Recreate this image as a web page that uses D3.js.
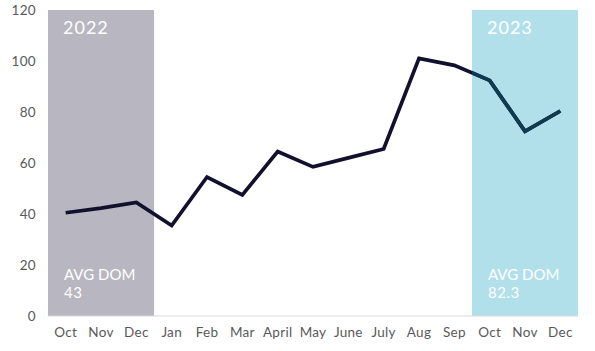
<!DOCTYPE html>
<html>
<head>
<meta charset="utf-8">
<script src="https://cdn.jsdelivr.net/npm/d3@7"></script>
<style>
  body { margin: 0; background: #fff; }
  svg text { font-family: "Lato", "Open Sans", sans-serif; }
</style>
</head>
<body>
<svg id="chart"></svg>
<script>
// Data
const months = ["Oct", "Nov", "Dec", "Jan", "Feb", "Mar", "April", "May", "June", "July", "Aug", "Sep", "Oct ", "Nov ", "Dec "];
const domValues = [40.5, 42.3, 44.5, 35.5, 54.5, 47.5, 64.5, 58.5, 62, 65.5, 101, 98.3, 92.4, 72.4, 80.4];
const yTicks = [0, 20, 40, 60, 80, 100, 120];
const periods = [
    { label: "2022", avg: "43", from: "Oct", to: "Dec", color: "#b8b6c0" },
    { label: "2023", avg: "82.3", from: "Oct ", to: "Dec ", color: "#b1e0ea" }
];

function createChart() {
    const margin = { top: 10, right: 17, bottom: 35, left: 48 };
    const W = 595, H = 351;
    const width = W - margin.left - margin.right;
    const height = H - margin.top - margin.bottom;

    const svg = d3.select("#chart")
        .attr("width", W)
        .attr("height", H)
        .append("g")
        .attr("transform", `translate(${margin.left},${margin.top})`);

    const x = d3.scaleBand()
        .domain(months)
        .range([0, width]);

    const y = d3.scaleLinear()
        .domain([0, 120])
        .range([height, 0]);

    // Shaded periods
    periods.forEach(p => {
        const x0 = x(p.from), x1 = x(p.to) + x.bandwidth();
        svg.append("rect")
            .attr("x", x0)
            .attr("y", y(120))
            .attr("width", x1 - x0)
            .attr("height", y(0) - y(120))
            .attr("fill", p.color);
    });

    // Axis line
    svg.append("line")
        .attr("x1", 0)
        .attr("x2", width)
        .attr("y1", y(0))
        .attr("y2", y(0))
        .attr("stroke", "#d9d9d9")
        .attr("stroke-width", 1);

    // Y axis labels
    const yAxis = svg.append("g")
        .call(d3.axisLeft(y).tickValues(yTicks).tickSize(0).tickPadding(12));
    yAxis.select(".domain").remove();
    yAxis.selectAll("text")
        .attr("fill", "#595959")
        .style("font-size", "13.5px")
        .style("letter-spacing", "0.3px");

    // X axis labels
    const xAxis = svg.append("g")
        .attr("transform", `translate(0,${height})`)
        .call(d3.axisBottom(x).tickSize(0).tickPadding(11));
    xAxis.select(".domain").remove();
    xAxis.selectAll("text")
        .attr("fill", "#595959")
        .style("font-size", "13.5px")
        .style("letter-spacing", "0.3px");

    // Line
    const line = d3.line()
        .x((d, i) => x(months[i]) + x.bandwidth() / 2)
        .y(d => y(d));

    svg.append("path")
        .datum(domValues)
        .attr("d", line)
        .attr("fill", "none")
        .attr("stroke", "#13102e")
        .attr("stroke-width", 3.7)
        .attr("stroke-linejoin", "miter");

    // Tinted part of the line inside the 2023 band
    const p2 = periods[1];
    svg.append("clipPath")
        .attr("id", "clip2023")
        .append("rect")
        .attr("x", x(p2.from))
        .attr("y", y(120))
        .attr("width", x(p2.to) + x.bandwidth() - x(p2.from))
        .attr("height", y(0) - y(120));

    svg.append("path")
        .datum(domValues)
        .attr("d", line)
        .attr("clip-path", "url(#clip2023)")
        .attr("fill", "none")
        .attr("stroke", "#0e3b50")
        .attr("stroke-width", 3.7);

    // Period labels
    periods.forEach(p => {
        const x0 = x(p.from);
        svg.append("text")
            .attr("x", x0 + 15)
            .attr("y", 24)
            .attr("fill", "#fff")
            .style("font-size", "18px")
            .style("letter-spacing", "1px")
            .text(p.label);
        svg.append("text")
            .attr("x", x0 + 16)
            .attr("y", 269.5)
            .attr("fill", "#fff")
            .style("font-size", "15px")
            .text("AVG DOM");
        svg.append("text")
            .attr("x", x0 + 16)
            .attr("y", 288)
            .attr("fill", "#fff")
            .style("font-size", "15px")
            .style("letter-spacing", "0.5px")
            .text(p.avg);
    });
}

createChart();
</script>
</body>
</html>
